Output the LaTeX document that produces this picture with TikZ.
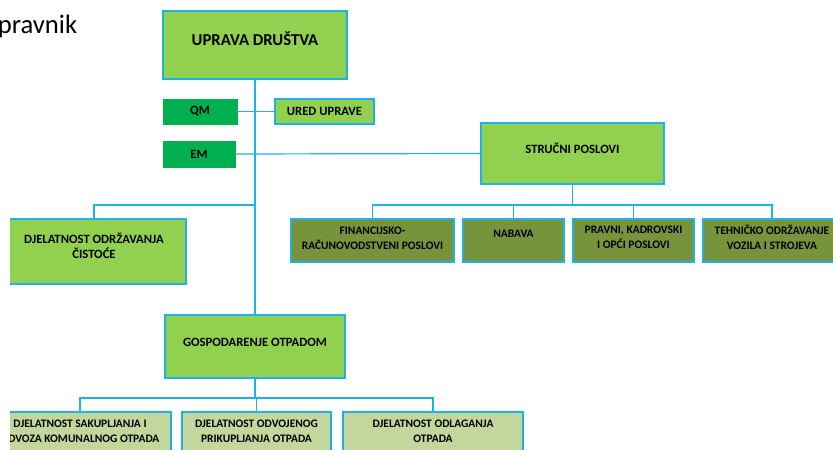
\documentclass[tikz,border=0pt]{standalone}
\usepackage{fontspec}
\setmainfont{Carlito}
\definecolor{linkblue}{RGB}{30, 178, 236}
\definecolor{leafgreen}{RGB}{146, 208, 80}
\definecolor{darkgreen}{RGB}{0, 176, 80}
\definecolor{olivegreen}{RGB}{119, 147, 60}
\definecolor{paleolive}{RGB}{195, 214, 155}
\usetikzlibrary{positioning, calc}

\begin{document}
\begin{tikzpicture}[x=0.75pt, y=-0.75pt,
    orgbox/.style={draw=linkblue, line width=0.9pt, inner sep=0pt},
    link/.style={draw=linkblue, line width=0.9pt},
    bigtxt/.style={font=\bfseries\fontsize{12.5}{14}\selectfont, inner sep=0pt, align=center},
    midtxt/.style={font=\bfseries\fontsize{9.5}{11.5}\selectfont, inner sep=0pt, align=center},
    smalltxt/.style={font=\bfseries\fontsize{8.6}{11.5}\selectfont, inner sep=0pt, align=center}]
  \useasboundingbox (0,0) rectangle (833,450);

  % Cut-off heading at the top left
  \node[font=\fontsize{20}{24}\selectfont, anchor=base west, inner sep=0pt] (heading) at (-2.5, 33) {pravnik};

  \begin{scope}
  \clip (10,0) rectangle (833,450);

  % Management
  \node[orgbox, fill=leafgreen, minimum width=138pt, minimum height=51pt] (uprava) at (255, 45) {};
  \node[bigtxt] (uprava-t) at (255, 39) {UPRAVA DRUŠTVA};

  \node[fill=darkgreen, draw=darkgreen, minimum width=55.5pt, minimum height=18.75pt, inner sep=0pt] (qm) at (200, 111.5) {};
  \node[midtxt] (qm-t) at (200, 111.5) {QM};
  \node[fill=darkgreen, draw=darkgreen, minimum width=54pt, minimum height=19.5pt, inner sep=0pt] (em) at (199, 154) {};
  \node[midtxt] (em-t) at (199, 154) {EM};

  \node[orgbox, fill=leafgreen, minimum width=74.25pt, minimum height=18.75pt] (ured) at (324.5, 111.5) {};
  \node[midtxt] (ured-t) at (324.5, 111.5) {URED UPRAVE};

  % Professional services
  \node[orgbox, fill=leafgreen, minimum width=137.25pt, minimum height=45.75pt] (strucni) at (572.5, 153.5) {};
  \node[midtxt] (strucni-t) at (572.5, 148) {STRUČNI POSLOVI};

  \node[orgbox, fill=olivegreen, minimum width=122.25pt, minimum height=32.25pt] (fin) at (372.5, 240.5) {};
  \node[smalltxt] (fin-t) at (372.5, 238) {FINANCIJSKO-\\RAČUNOVODSTVENI POSLOVI};
  \node[orgbox, fill=olivegreen, minimum width=75.75pt, minimum height=32.25pt] (nabava) at (513.5, 240.5) {};
  \node[smalltxt] (nabava-t) at (513.5, 234) {NABAVA};
  \node[orgbox, fill=olivegreen, minimum width=90.75pt, minimum height=32.25pt] (pravni) at (633.5, 240.5) {};
  \node[smalltxt] (pravni-t) at (633.5, 237) {PRAVNI, KADROVSKI\\I OPĆI POSLOVI};
  \node[orgbox, fill=olivegreen, minimum width=103.5pt, minimum height=32.25pt] (tehnicko) at (772, 240.5) {};
  \node[smalltxt] (tehnicko-t) at (772, 237) {TEHNIČKO ODRŽAVANJE\\VOZILA I STROJEVA};

  % Cleaning
  \node[orgbox, fill=leafgreen, minimum width=138pt, minimum height=48.75pt] (cistoca) at (94, 251.5) {};
  \node[midtxt] (cistoca-t) at (94, 245.5) {DJELATNOST ODRŽAVANJA\\ČISTOĆE};

  % Waste management
  \node[orgbox, fill=leafgreen, minimum width=135pt, minimum height=47.25pt] (otpad) at (255, 346.5) {};
  \node[midtxt] (otpad-t) at (255, 342) {GOSPODARENJE OTPADOM};

  \node[orgbox, fill=paleolive, minimum width=136.5pt, minimum height=48pt] (sakup) at (80, 444) {};
  \node[smalltxt] (sakup-t) at (80, 431) {DJELATNOST SAKUPLJANJA I\\ODVOZA KOMUNALNOG OTPADA};
  \node[orgbox, fill=paleolive, minimum width=111.75pt, minimum height=48pt] (odvoj) at (256.5, 444) {};
  \node[smalltxt] (odvoj-t) at (256.5, 431) {DJELATNOST ODVOJENOG\\PRIKUPLJANJA OTPADA};
  \node[orgbox, fill=paleolive, minimum width=135pt, minimum height=48pt] (odlag) at (433, 444) {};
  \node[smalltxt] (odlag-t) at (433, 431) {DJELATNOST ODLAGANJA\\OTPADA};

  % Connectors
  \coordinate (jl) at (255, 205);
  \coordinate (js) at (572.5, 205);
  \coordinate (jo) at (255, 398);
  \draw[link] (uprava.south) -- (otpad.north);
  \draw[link] (qm.east) -- (ured.west);
  \draw[link] (em.east) -- (strucni.west);
  \draw[link] (jl) -| (cistoca.north);
  \draw[link] (strucni.south) -- (js);
  \foreach \n in {fin, nabava, pravni, tehnicko}
    \draw[link] (js) -| (\n.north);
  \draw[link] (otpad.south) -- (jo);
  \foreach \n in {sakup, odvoj, odlag}
    \draw[link] (jo) -| (\n.north);
  \end{scope}
\end{tikzpicture}
\end{document}
